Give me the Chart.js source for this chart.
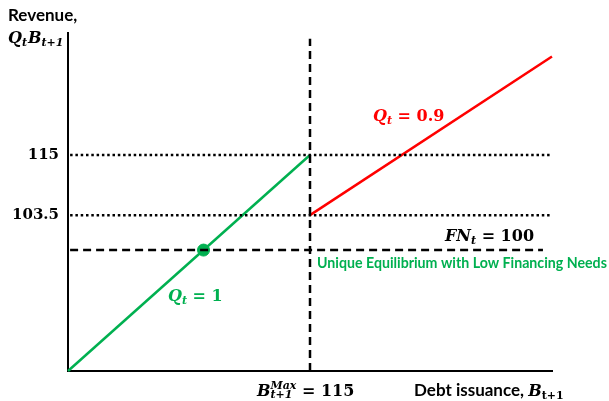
<!DOCTYPE html>
<html>
<head>
<meta charset="utf-8">
<script src="https://cdn.jsdelivr.net/npm/chart.js@4.4.1/dist/chart.umd.min.js"></script>
<style>
  html, body { margin: 0; padding: 0; background: #fff; }
  #wrap { width: 609px; height: 401px; position: relative; }
</style>
</head>
<body>
<div id="wrap"><canvas id="c"></canvas></div>
<script>
// ---- Data (schematic axis units) ----
const debtQ1 = [0, 115];            // debt issuance where Q_t = 1 applies
const revenueQ1 = [0, 115];         // revenue along Q_t = 1
const debtQ09 = [115, 230];         // debt issuance where Q_t = 0.9 applies
const revenueQ09 = [83, 167.5];     // revenue along Q_t = 0.9 (schematic)
const yTickValues = [115, 83];
const yTickLabels = ['115', '103.5'];
const bMax = 115;
const bMaxTop = 177;
const fnLevel = 64.4;
const fnEnd = 225.7;
const refLineStart = 1;
const refLineEnd = 230;
const equilibriumB = [64.4];
const equilibriumRev = [64.4];

const GREEN = '#00B050';
const RED = '#FF0000';

function pts(xs, ys) { return xs.map((x, i) => ({ x: x, y: ys[i] })); }

const MI = 'bold italic 16px "DejaVu Serif"';
const MIs = 'bold italic 11px "DejaVu Serif"';
const MB = 'bold 16px "DejaVu Serif"';
const MBs = 'bold 11px "DejaVu Serif"';
const SANS = 'bold 17px Lato';

function rich(ctx, x, y, parts, color) {
  let cx = x, stackW = 0;
  ctx.fillStyle = color;
  ctx.textBaseline = 'alphabetic';
  ctx.textAlign = 'left';
  for (const p of parts) {
    ctx.font = p.f;
    const w = ctx.measureText(p.t).width;
    ctx.fillText(p.t, cx + (p.dx || 0), y + (p.dy || 0));
    if (p.stack) { stackW = w; continue; }
    cx += Math.max(w, stackW) + (p.sp || 0);
    stackW = 0;
  }
}

const textPlugin = {
  id: 'texts',
  afterDraw(chart) {
    const ctx = chart.ctx;
    ctx.save();
    ctx.font = SANS; ctx.fillStyle = '#000'; ctx.textAlign = 'left';
    ctx.fillText('Revenue,', 8, 21);
    rich(ctx, 8, 43, [
      { t: 'Q', f: MI }, { t: 't', f: MIs, dy: 3, sp: 1 },
      { t: 'B', f: MI }, { t: 't+1', f: MIs, dy: 3 }
    ], '#000');
    rich(ctx, 257, 396, [
      { t: 'B', f: MI }, { t: 'Max', f: MIs, dy: -7, stack: true },
      { t: 't+1', f: MIs, dy: 2 }, { t: ' = 115', f: MB }
    ], '#000');
    ctx.font = SANS; ctx.fillStyle = '#000';
    ctx.fillText('Debt issuance, ', 414, 396);
    const w = ctx.measureText('Debt issuance, ').width;
    rich(ctx, 414 + w, 396, [
      { t: 'B', f: MI }, { t: 't+1', f: MBs, dy: 3 }
    ], '#000');
    rich(ctx, 373, 121, [
      { t: 'Q', f: MI }, { t: 't', f: MIs, dy: 3 }, { t: ' = 0.9', f: MB }
    ], RED);
    rich(ctx, 168, 301, [
      { t: 'Q', f: MI }, { t: 't', f: MIs, dy: 3 }, { t: ' = 1', f: MB }
    ], GREEN);
    rich(ctx, 445, 241, [
      { t: 'FN', f: MI }, { t: 't', f: MIs, dy: 3 }, { t: ' = 100', f: MB }
    ], '#000');
    ctx.font = 'bold 14.2px Lato'; ctx.fillStyle = GREEN;
    ctx.fillText('Unique Equilibrium with Low Financing Needs', 317, 268);
    ctx.restore();
  }
};

new Chart(document.getElementById('c'), {
  type: 'scatter',
  data: {
    datasets: [
      { data: pts([refLineStart, refLineEnd], [yTickValues[0], yTickValues[0]]), showLine: true,
        borderColor: '#000', borderWidth: 2.5, borderDash: [2.5, 2.8], pointRadius: 0 },
      { data: pts([refLineStart, refLineEnd], [yTickValues[1], yTickValues[1]]), showLine: true,
        borderColor: '#000', borderWidth: 2.5, borderDash: [2.5, 2.8], pointRadius: 0 },
      { data: pts([refLineStart, fnEnd], [fnLevel, fnLevel]), showLine: true,
        borderColor: '#000', borderWidth: 2.5, borderDash: [8, 5], pointRadius: 0 },
      { data: pts([bMax, bMax], [0, bMaxTop]), showLine: true,
        borderColor: '#000', borderWidth: 2.5, borderDash: [8, 5], pointRadius: 0 },
      { data: pts(debtQ1, revenueQ1), showLine: true,
        borderColor: GREEN, borderWidth: 2.5, pointRadius: 0 },
      { data: pts(debtQ09, revenueQ09), showLine: true,
        borderColor: RED, borderWidth: 2.5, pointRadius: 0 },
      { data: pts(equilibriumB, equilibriumRev), showLine: false,
        backgroundColor: GREEN, borderColor: GREEN, pointRadius: 6, pointHoverRadius: 6 }
    ]
  },
  options: {
    responsive: true,
    maintainAspectRatio: false,
    animation: false,
    clip: false,
    layout: { padding: { left: 0, top: 33, right: 57, bottom: 0 } },
    plugins: { legend: { display: false }, tooltip: { enabled: false } },
    scales: {
      x: {
        type: 'linear', min: 0, max: 230,
        grid: { display: false, drawTicks: false },
        ticks: { display: false },
        border: { display: true, color: '#000', width: 2 },
        afterFit: s => { s.height = 30; }
      },
      y: {
        type: 'linear', min: 0, max: 180,
        grid: { display: false, drawTicks: false },
        border: { display: true, color: '#000', width: 2 },
        afterBuildTicks: s => { s.ticks = yTickValues.map(v => ({ value: v })); },
        ticks: {
          color: '#000', padding: 9,
          font: { family: '"DejaVu Serif"', weight: 'bold', size: 15 },
          callback: v => yTickLabels[yTickValues.indexOf(v)]
        },
        afterFit: s => { s.width = 68; }
      }
    }
  },
  plugins: [textPlugin]
});
</script>
</body>
</html>
